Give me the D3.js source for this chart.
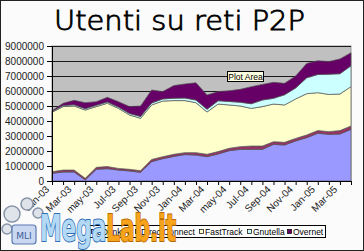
<!DOCTYPE html>
<html>
<head>
<meta charset="utf-8">
<script src="https://cdnjs.cloudflare.com/ajax/libs/d3/7.8.5/d3.min.js"></script>
<style>
  body { margin: 0; background: #fff; }
  svg { display: block; }
</style>
</head>
<body>
<div id="chart"></div>
<script>
// Months (Jan-03 .. Apr-05), only every second one gets a label on the axis

let months = ["Jan-03", "Feb-03", "Mar-03", "Apr-03", "may-03", "Jun-03", "Jul-03", "Aug-03", "Sep-03", "Oct-03", "Nov-03", "Dec-03",
    "Jan-04", "Feb-04", "Mar-04", "Apr-04", "may-04", "Jun-04", "Jul-04", "Aug-04", "Sep-04", "Oct-04", "Nov-04", "Dec-04",
    "Jan-05", "Feb-05", "Mar-05", "Apr-05"];

let seriesNames = ["eDonkey", "DirectConnect", "FastTrack", "Gnutella", "Overnet"];
let seriesColors = ["#9999ff", "#993366", "#ffffcc", "#ccffff", "#660066"];

// Users per network

let eDonkey = [510000, 600000, 600000, 70000, 780000, 820000, 730000, 670000, 580000, 1290000, 1490000, 1640000, 1760000, 1730000,
    1620000, 1800000, 2020000, 2110000, 2110000, 2110000, 2440000, 2400000, 2670000, 2890000, 3180000, 3110000, 3130000, 3440000];
let directConnect = [110000, 130000, 130000, 110000, 130000, 140000, 110000, 110000, 110000, 150000, 130000, 140000, 130000, 160000,
    160000, 160000, 160000, 180000, 220000, 220000, 180000, 180000, 170000, 180000, 180000, 180000, 230000, 230000];
let fastTrack = [3960000, 4230000, 4270000, 4550000, 4050000, 4220000, 4000000, 3620000, 3490000, 3630000, 3710000, 3580000, 3470000, 3330000,
    2820000, 3170000, 2890000, 2710000, 2510000, 2630000, 2510000, 2490000, 2630000, 2750000, 2530000, 2480000, 2440000, 2620000];
let gnutella = [60000, 80000, 80000, 90000, 90000, 90000, 90000, 100000, 120000, 130000, 140000, 160000, 170000, 180000,
    180000, 220000, 230000, 250000, 310000, 440000, 380000, 680000, 730000, 1060000, 1210000, 1350000, 1350000, 1390000];
let overnet = [50000, 140000, 300000, 400000, 240000, 310000, 360000, 460000, 700000, 870000, 490000, 840000, 940000, 1150000,
    950000, 610000, 720000, 860000, 1140000, 1040000, 1070000, 760000, 800000, 960000, 920000, 840000, 990000, 870000];

let yTicks = [0, 1000000, 2000000, 3000000, 4000000, 5000000, 6000000, 7000000, 8000000, 9000000];

// SVG size and plot area

let svgWidth = 364;
let svgHeight = 251;
let plot = { left: 52, right: 351, top: 46, bottom: 181 };
let font = "'Liberation Sans', Arial, sans-serif";

let svg = d3.select("#chart")
    .append("svg")
    .attr("width", svgWidth)
    .attr("height", svgHeight);

// Outer frame
svg.append("rect")
    .attr("x", 0.5).attr("y", 0.5)
    .attr("width", svgWidth - 1).attr("height", svgHeight - 1)
    .attr("fill", "#fbfbfb")
    .attr("stroke", "#222");

// Title
svg.append("text")
    .attr("x", 54)
    .attr("y", 30)
    .attr("textLength", 251)
    .attr("lengthAdjust", "spacingAndGlyphs")
    .style("font-family", "'DejaVu Sans', sans-serif")
    .style("font-size", "26px")
    .style("font-weight", 200)
    .attr("fill", "#000")
    .attr("stroke", "#000")
    .attr("stroke-width", 0.8)
    .text("Utenti su reti P2P");

// Scales

let x = d3.scaleLinear().domain([0, months.length - 1]).range([plot.left, plot.right]);
let y = d3.scaleLinear().domain([0, 9000000]).range([plot.bottom, plot.top]);

// Build table for the stack

let rows = months.map((m, i) => ({
    eDonkey: eDonkey[i],
    DirectConnect: directConnect[i],
    FastTrack: fastTrack[i],
    Gnutella: gnutella[i],
    Overnet: overnet[i]
}));
let stacked = d3.stack().keys(seriesNames)(rows);

// Plot area background
svg.append("rect")
    .attr("x", plot.left).attr("y", plot.top)
    .attr("width", plot.right - plot.left).attr("height", plot.bottom - plot.top)
    .attr("fill", "#c0c0c0")
    .attr("stroke", "#9a9a9a");

// Gridlines
svg.append("g")
    .selectAll("line")
    .data(yTicks.slice(1))
    .enter()
    .append("line")
    .attr("x1", plot.left).attr("x2", plot.right)
    .attr("y1", d => Math.round(y(d)) + 0.5).attr("y2", d => Math.round(y(d)) + 0.5)
    .attr("stroke", "#1a1a1a")
    .attr("stroke-width", 1);

// Areas
let area = d3.area()
    .x((d, i) => x(i))
    .y0(d => y(d[0]))
    .y1(d => y(d[1]));

svg.append("g")
    .selectAll("path")
    .data(stacked)
    .enter()
    .append("path")
    .attr("d", area)
    .attr("fill", (d, i) => seriesColors[i])
    .attr("stroke", "#555")
    .attr("stroke-width", 0.7);

// Y axis
let yAxis = d3.axisLeft(y).tickValues(yTicks).tickSize(5).tickFormat(d3.format("d"));
let yAxisG = svg.append("g")
    .attr("transform", `translate(${plot.left},0)`)
    .call(yAxis);
yAxisG.select(".domain").attr("stroke", "#000");
yAxisG.selectAll("text")
    .style("font-family", font)
    .style("font-size", "10px")
    .attr("fill", "#222");

// X axis, tick every month, label every second month
let xAxis = d3.axisBottom(x).tickValues(d3.range(months.length)).tickSize(4).tickFormat("");
let xAxisG = svg.append("g")
    .attr("transform", `translate(0,${plot.bottom})`)
    .call(xAxis);
xAxisG.select(".domain").attr("stroke", "#000");

svg.append("g")
    .selectAll("text")
    .data(months.filter((m, i) => i % 2 === 0))
    .enter()
    .append("text")
    .attr("transform", (d, i) => `translate(${x(i * 2) - 2},${plot.bottom + 9}) rotate(-45)`)
    .attr("text-anchor", "end")
    .style("font-family", font)
    .style("font-size", "10px")
    .attr("fill", "#222")
    .text(d => d);

// "Plot Area" tooltip
let tip = svg.append("g").attr("transform", "translate(227,71)");
tip.append("rect")
    .attr("x", 0.5).attr("y", 0.5)
    .attr("width", 36).attr("height", 10)
    .attr("fill", "#ffffe1")
    .attr("stroke", "#000");
tip.append("text")
    .attr("x", 18.5).attr("y", 8.5)
    .attr("text-anchor", "middle")
    .style("font-family", font)
    .style("font-size", "8.5px")
    .text("Plot Area");

// Legend
let legend = svg.append("g").attr("transform", "translate(86,225)");
legend.append("rect")
    .attr("x", 0.5).attr("y", 0.5)
    .attr("width", 239).attr("height", 12)
    .attr("fill", "#fff")
    .attr("stroke", "#000");

let legendX = [5, 49, 113, 161, 201];
let legendItems = legend.selectAll("g.item")
    .data(seriesNames)
    .enter()
    .append("g")
    .attr("class", "item")
    .attr("transform", (d, i) => `translate(${legendX[i]},0)`);
legendItems.append("rect")
    .attr("x", 0.5).attr("y", 4.5)
    .attr("width", 4).attr("height", 4)
    .attr("fill", (d, i) => seriesColors[i])
    .attr("stroke", "#000")
    .attr("stroke-width", 0.7);
legendItems.append("text")
    .attr("x", 6)
    .attr("y", 9.5)
    .style("font-family", font)
    .style("font-size", "8.5px")
    .text(d => d);

// MegaLab.it watermark
let wm = svg.append("g");
let bubbles = [[12, 214, 8], [27, 204, 6], [38, 213, 5], [7, 229, 5]];
wm.selectAll("circle")
    .data(bubbles)
    .enter()
    .append("circle")
    .attr("cx", d => d[0]).attr("cy", d => d[1]).attr("r", d => d[2])
    .attr("fill", "#dfe3ea")
    .attr("stroke", "#8894a8")
    .attr("stroke-width", 1.5);
wm.append("rect")
    .attr("x", 12).attr("y", 225).attr("width", 24).attr("height", 19).attr("rx", 3)
    .attr("fill", "#c9d8f0").attr("stroke", "#5a7bb0").attr("stroke-width", 1.2);
wm.append("text")
    .attr("x", 24).attr("y", 239).attr("text-anchor", "middle")
    .style("font-family", "'DejaVu Sans', sans-serif").style("font-size", "9px")
    .attr("fill", "#3b5d99").text("MLI");
let wmText = wm.append("text")
    .attr("x", 40).attr("y", 241)
    .attr("textLength", 136)
    .attr("lengthAdjust", "spacingAndGlyphs")
    .style("font-family", "'DejaVu Sans', sans-serif")
    .style("font-size", "38px")
    .style("font-weight", "bold")
    .attr("stroke-width", 2)
    .attr("paint-order", "stroke");
wmText.append("tspan").attr("fill", "#b3d9f5").attr("stroke", "#2f6fb5").text("Mega");
wmText.append("tspan").attr("fill", "#f7a31c").attr("stroke", "#b86a00").text("Lab.it");
</script>
</body>
</html>
